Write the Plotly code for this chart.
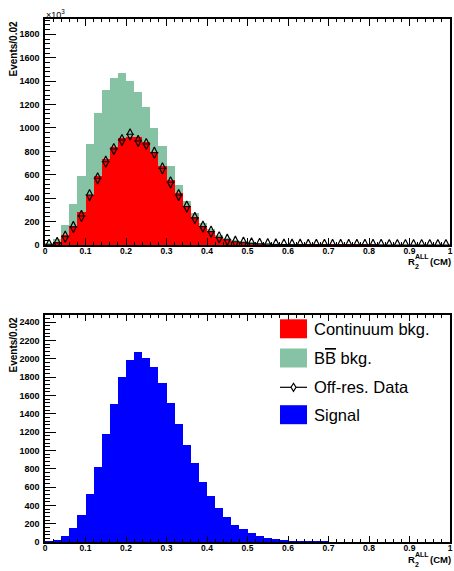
import plotly.graph_objects as go

# ---------------- data ----------------
n_bins = 50
bin_width = 0.02
centers = [round(bin_width * (i + 0.5), 3) for i in range(n_bins)]

continuum = [8, 28, 85, 165, 285, 427, 593, 732, 840, 912, 926, 926, 880, 792, 678, 556, 442, 333, 242, 165,
             120, 71, 48, 32, 22, 14, 10, 7, 5, 4, 3, 3, 2, 2, 2, 1, 1, 1, 1, 1,
             1, 0, 0, 0, 0, 0, 0, 0, 0, 0]
bbbar = [3, 23, 86, 185, 308, 436, 538, 590, 587, 555, 479, 382, 302, 211, 168, 119, 71, 40, 34, 26,
         17, 14, 10, 8, 5, 4, 2, 2, 1, 1, 1, 0, 0, 0, 0, 0, 0, 0, 0, 0,
         0, 0, 0, 0, 0, 0, 0, 0, 0, 0]
offres = [2, 18, 71, 154, 248, 427, 570, 712, 820, 897, 946, 889, 863, 789, 655, 536, 427, 328, 231, 157,
          114, 66, 45, 28, 20, 14, 10, 7, 5, 4, 3, 3, 2, 2, 2, 1, 1, 1, 1, 1,
          1, 1, 0, 0, 0, 0, 0, 0, 0, 0]
signal = [11, 33, 73, 164, 298, 535, 825, 1178, 1509, 1807, 1989, 2073, 2015, 1913, 1735, 1520, 1287, 1062, 862, 662,
          505, 375, 276, 196, 145, 105, 69, 51, 40, 29, 22, 18, 15, 10, 8, 6, 5, 4, 3, 3,
          2, 2, 1, 1, 1, 1, 0, 0, 0, 0]

x_tickvals = [0, 0.1, 0.2, 0.3, 0.4, 0.5, 0.6, 0.7, 0.8, 0.9, 1.0]
x_ticktext = ["0", "0.1", "0.2", "0.3", "0.4", "0.5", "0.6", "0.7", "0.8", "0.9", "1"]
legend_labels = ["Continuum bkg.", "B<span style='text-decoration:overline'>B</span> bkg.", "Off-res. Data", "Signal"]

# ---------------- style ----------------
W, H = 454, 571
RED = "#ff0000"
GREEN = "#86c3a5"
BLUE = "#0000ff"
FONT = "Liberation Sans, Arial, Helvetica, sans-serif"


def px(x):
    return x / W


def py(y):
    return 1 - y / H


fig = go.Figure()

fig.add_trace(go.Bar(x=centers, y=continuum, width=bin_width, marker=dict(color=RED, line=dict(width=0)),
                     xaxis="x", yaxis="y", showlegend=False))
fig.add_trace(go.Bar(x=centers, y=bbbar, width=bin_width, marker=dict(color=GREEN, line=dict(width=0)),
                     xaxis="x", yaxis="y", showlegend=False))
fig.add_trace(go.Scatter(x=centers, y=offres, mode="markers", xaxis="x", yaxis="y", showlegend=False,
                         marker=dict(symbol="diamond-tall-open", size=8, color="black", line=dict(width=1.2, color="black")),
                         error_x=dict(type="constant", value=bin_width / 2, width=0, thickness=1, color="black")))
fig.add_trace(go.Bar(x=centers, y=signal, width=bin_width, marker=dict(color=BLUE, line=dict(width=0)),
                     xaxis="x2", yaxis="y2", showlegend=False))

x_dom = [px(45), px(450)]
top_dom = [py(245), py(19)]
bot_dom = [py(542.3), py(314.7)]

xtickfont = dict(family=FONT, size=8.5, color="black", weight="bold")
ytickfont = dict(family=FONT, size=9, color="black", weight="bold")


def xaxis(anchor):
    return dict(domain=x_dom, anchor=anchor, range=[0, 1], tickvals=x_tickvals, ticktext=x_ticktext,
                ticks="inside", ticklen=7, tickwidth=1, tickcolor="black",
                minor=dict(dtick=0.02, tick0=0, ticks="inside", ticklen=3.5, tickwidth=1, tickcolor="black"),
                showline=True, linecolor="black", linewidth=1.5, mirror="ticks", automargin=False,
                showgrid=False, zeroline=False, tickfont=xtickfont, ticklabelstandoff=-3)


def yaxis(anchor, dom, top):
    return dict(domain=dom, anchor=anchor, range=[0, top], dtick=200, tick0=0,
                ticks="inside", ticklen=11, tickwidth=1, tickcolor="black",
                minor=dict(dtick=40, tick0=0, ticks="inside", ticklen=5.5, tickwidth=1, tickcolor="black"),
                showline=True, linecolor="black", linewidth=1.5, mirror=True, automargin=False,
                showgrid=False, zeroline=False, tickfont=ytickfont, ticklabelstandoff=2)


def yaxis_right(anchor, over, top):
    return dict(anchor=anchor, overlaying=over, side="right", range=[0, top], dtick=200, tick0=0,
                ticks="inside", ticklen=8, tickwidth=1, tickcolor="black",
                minor=dict(dtick=40, tick0=0, ticks="inside", ticklen=4, tickwidth=1, tickcolor="black"),
                showline=False, showticklabels=False, automargin=False,
                showgrid=False, zeroline=False)


fig.update_layout(
    width=W, height=H, margin=dict(l=0, r=0, t=0, b=0, autoexpand=False),
    paper_bgcolor="white", plot_bgcolor="white",
    barmode="stack", bargap=0,
    xaxis=xaxis("y"), yaxis=yaxis("x", top_dom, 1931),
    xaxis2=xaxis("y2"), yaxis2=yaxis("x2", bot_dom, 2480),
    yaxis3=yaxis_right("x", "y", 1931), yaxis4=yaxis_right("x2", "y2", 2480),
    font=dict(family=FONT, color="black"),
)

ann = []
# y-axis titles
for ytop in (20, 316):
    ann.append(dict(text="Events/0.02", x=px(13), y=py(ytop), xref="paper", yref="paper",
                    xanchor="center", yanchor="top", textangle=-90, showarrow=False,
                    font=dict(family=FONT, size=10, weight="bold", color="black")))
# x-axis titles
for ybase in (261.5, 559.5):
    ann.append(dict(text="R", x=px(406), y=py(ybase), xref="paper", yref="paper", xanchor="left", yanchor="middle",
                    showarrow=False, font=dict(family=FONT, size=9.5, weight="bold")))
    ann.append(dict(text="ALL", x=px(413), y=py(ybase - 5), xref="paper", yref="paper", xanchor="left",
                    yanchor="middle", showarrow=False, font=dict(family=FONT, size=7, weight="bold")))
    ann.append(dict(text="2", x=px(413), y=py(ybase + 4.5), xref="paper", yref="paper", xanchor="left",
                    yanchor="middle", showarrow=False, font=dict(family=FONT, size=7, weight="bold")))
    ann.append(dict(text="(CM)", x=px(428), y=py(ybase), xref="paper", yref="paper", xanchor="left",
                    yanchor="middle", showarrow=False, font=dict(family=FONT, size=9.5, weight="bold")))
# x10^3
ann.append(dict(text="×10<sup>3</sup>", x=px(44), y=py(14), xref="paper", yref="paper", xanchor="left",
                yanchor="middle", showarrow=False, font=dict(family=FONT, size=9)))

# legend
shapes = []
rows = [328.8, 358, 387.3, 414.7]
box_x0, box_x1 = 280, 307
colors = [RED, GREEN, None, BLUE]
for lab, yc, col in zip(legend_labels, rows, colors):
    if col is not None:
        shapes.append(dict(type="rect", xref="paper", yref="paper", x0=px(box_x0), x1=px(box_x1),
                           y0=py(yc + 9.5), y1=py(yc - 9.5), fillcolor=col, line=dict(width=0)))
    else:
        shapes.append(dict(type="line", xref="paper", yref="paper", x0=px(box_x0), x1=px(box_x1),
                           y0=py(yc), y1=py(yc), line=dict(color="black", width=1.2)))
        cx = (box_x0 + box_x1) / 2
        path = "M {} {} L {} {} L {} {} L {} {} Z".format(px(cx), py(yc - 4), px(cx + 2.5), py(yc),
                                                           px(cx), py(yc + 4), px(cx - 2.5), py(yc))
        shapes.append(dict(type="path", xref="paper", yref="paper", path=path, fillcolor="white",
                           line=dict(color="black", width=1.2)))
    ann.append(dict(text=lab, x=px(311.5), y=py(yc), xref="paper", yref="paper", xanchor="left",
                    yanchor="middle", showarrow=False, font=dict(family=FONT, size=16.5, color="black")))

fig.update_layout(annotations=ann, shapes=shapes)
fig.write_html("out.html", config={"displayModeBar": False},
               post_script="document.body.style.margin='0px';document.body.style.overflow='hidden';")
